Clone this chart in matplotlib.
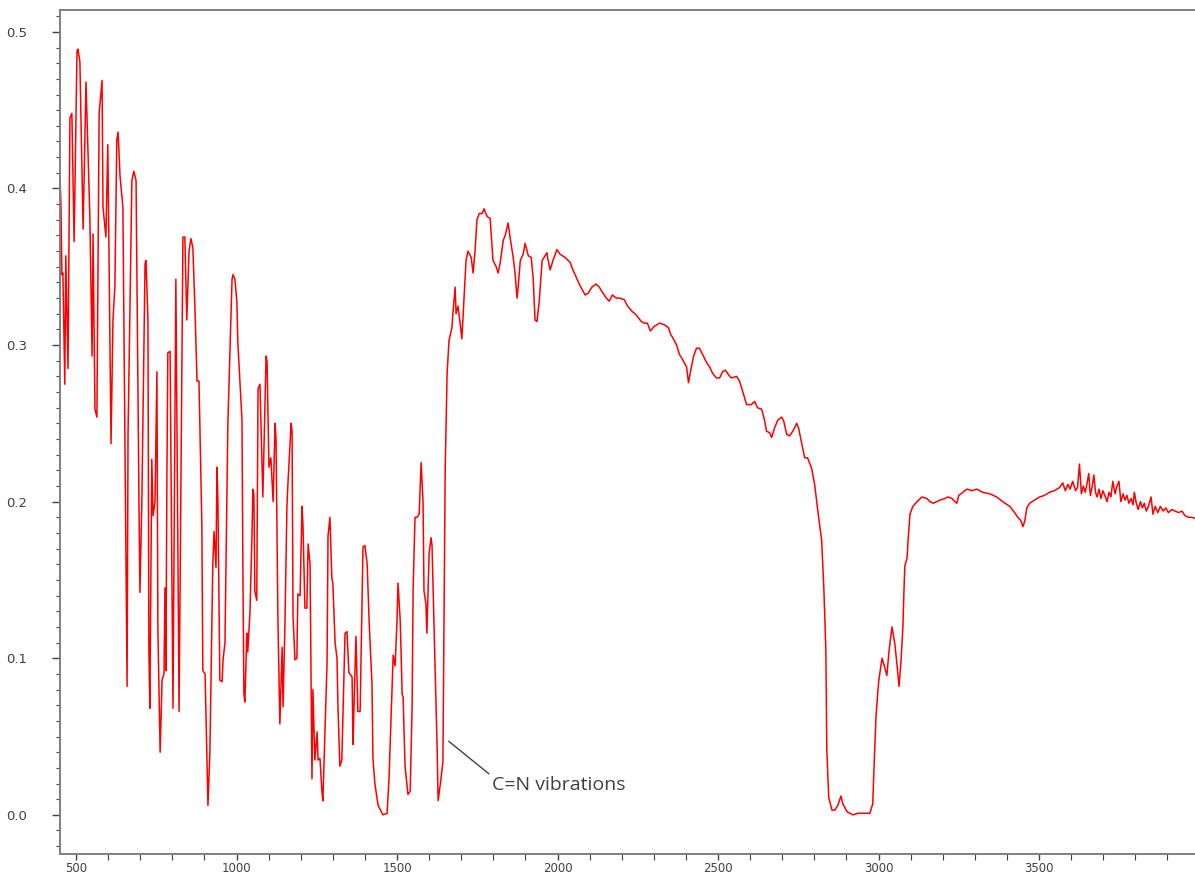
import matplotlib
matplotlib.use("Agg")
import matplotlib.pyplot as plt
from matplotlib.ticker import MultipleLocator, FormatStrFormatter

# IR spectrum, wavenumber (cm-1) vs absorbance
wavenumber = [
    450, 453, 456, 459, 465, 468, 475, 481, 487, 494, 503, 506, 512, 522, 531,
    543, 550, 553, 559, 565, 572, 581, 584, 593, 599, 609, 615, 621, 627, 631,
    637, 646, 652, 659, 662, 674, 680, 687, 693, 696, 699, 705, 715, 718, 724,
    727, 730, 736, 740, 746, 752, 755, 762, 768, 774, 777, 780, 783, 786, 793,
    802, 811, 821, 833, 839, 845, 852, 858, 864, 870, 877, 883, 892, 895, 902,
    908, 911, 917, 923, 926, 930, 936, 939, 942, 948, 955, 958, 964, 973, 986,
    989, 995, 1001, 1004, 1017, 1020, 1023, 1026, 1032, 1035, 1042, 1048, 1051,
    1054, 1057, 1063, 1067, 1073, 1082, 1092, 1095, 1101, 1107, 1114, 1120,
    1123, 1129, 1135, 1142, 1145, 1151, 1157, 1160, 1170, 1173, 1176, 1182,
    1188, 1191, 1198, 1204, 1207, 1213, 1219, 1223, 1229, 1235, 1238, 1244,
    1251, 1254, 1260, 1266, 1269, 1282, 1285, 1291, 1297, 1300, 1307, 1313,
    1316, 1322, 1328, 1338, 1344, 1350, 1360, 1363, 1366, 1372, 1378, 1385,
    1391, 1394, 1400, 1407, 1413, 1422, 1425, 1431, 1441, 1456, 1469, 1475,
    1488, 1494, 1500, 1503, 1510, 1516, 1519, 1525, 1534, 1541, 1547, 1550,
    1556, 1562, 1569, 1575, 1581, 1584, 1590, 1593, 1600, 1606, 1609, 1615,
    1625, 1628, 1637, 1643, 1650, 1656, 1662, 1671, 1674, 1681, 1684, 1690,
    1696, 1702, 1715, 1721, 1731, 1737, 1743, 1749, 1756, 1765, 1771, 1781,
    1790, 1799, 1809, 1815, 1821, 1831, 1837, 1846, 1852, 1862, 1868, 1874,
    1877, 1884, 1893, 1899, 1909, 1918, 1924, 1930, 1936, 1943, 1952, 1958,
    1967, 1970, 1977, 1986, 1998, 2008, 2023, 2039, 2048, 2061, 2070, 2086,
    2095, 2107, 2120, 2130, 2139, 2152, 2161, 2171, 2183, 2193, 2208, 2218,
    2230, 2246, 2261, 2271, 2280, 2289, 2302, 2318, 2333, 2346, 2352, 2358,
    2371, 2380, 2389, 2402, 2408, 2417, 2424, 2433, 2442, 2452, 2464, 2474,
    2483, 2495, 2505, 2514, 2523, 2533, 2542, 2558, 2567, 2576, 2589, 2604,
    2614, 2623, 2636, 2645, 2651, 2661, 2667, 2676, 2686, 2698, 2704, 2714,
    2723, 2733, 2745, 2751, 2761, 2770, 2779, 2792, 2801, 2811, 2823, 2830,
    2836, 2839, 2845, 2855, 2864, 2873, 2883, 2889, 2902, 2920, 2936, 2951,
    2964, 2973, 2982, 2986, 2992, 2998, 3001, 3011, 3017, 3026, 3033, 3042,
    3051, 3058, 3064, 3070, 3076, 3079, 3082, 3089, 3092, 3098, 3107, 3120,
    3135, 3151, 3160, 3170, 3182, 3191, 3207, 3216, 3229, 3238, 3244, 3250,
    3263, 3275, 3291, 3306, 3325, 3347, 3368, 3387, 3409, 3424, 3434, 3443,
    3450, 3456, 3462, 3471, 3486, 3502, 3517, 3533, 3548, 3564, 3574, 3582,
    3590, 3597, 3605, 3614, 3620, 3626, 3632, 3638, 3644, 3650, 3655, 3660,
    3666, 3671, 3676, 3681, 3687, 3693, 3699, 3705, 3712, 3718, 3724, 3730,
    3737, 3743, 3749, 3755, 3762, 3768, 3774, 3780, 3787, 3793, 3797, 3803,
    3809, 3816, 3822, 3828, 3834, 3841, 3849, 3855, 3862, 3870, 3878, 3887,
    3895, 3903, 3914, 3924, 3935, 3945, 3955, 3966, 3976, 3990,
]
absorbance = [
    0.407, 0.39, 0.345, 0.346, 0.275, 0.357, 0.285, 0.445, 0.448, 0.366, 0.488,
    0.489, 0.481, 0.374, 0.468, 0.382, 0.293, 0.371, 0.259, 0.254, 0.448, 0.469,
    0.388, 0.369, 0.428, 0.237, 0.316, 0.337, 0.431, 0.436, 0.408, 0.388, 0.25,
    0.082, 0.243, 0.405, 0.411, 0.405, 0.266, 0.2, 0.142, 0.2, 0.352, 0.354,
    0.316, 0.105, 0.068, 0.227, 0.191, 0.2, 0.283, 0.118, 0.04, 0.086, 0.09,
    0.145, 0.092, 0.214, 0.295, 0.296, 0.068, 0.342, 0.066, 0.369, 0.369, 0.316,
    0.36, 0.368, 0.362, 0.326, 0.277, 0.277, 0.185, 0.092, 0.09, 0.036, 0.006,
    0.04, 0.118, 0.16, 0.181, 0.158, 0.222, 0.2, 0.086, 0.085, 0.099, 0.11,
    0.25, 0.342, 0.345, 0.342, 0.328, 0.302, 0.252, 0.151, 0.077, 0.072, 0.116,
    0.104, 0.13, 0.178, 0.208, 0.205, 0.143, 0.137, 0.272, 0.275, 0.203, 0.293,
    0.29, 0.222, 0.228, 0.2, 0.25, 0.24, 0.124, 0.058, 0.107, 0.069, 0.124,
    0.197, 0.211, 0.25, 0.245, 0.127, 0.099, 0.1, 0.141, 0.14, 0.197, 0.185,
    0.132, 0.132, 0.173, 0.16, 0.023, 0.08, 0.035, 0.053, 0.035, 0.036, 0.015,
    0.009, 0.097, 0.178, 0.19, 0.151, 0.148, 0.11, 0.1, 0.069, 0.031, 0.035,
    0.116, 0.117, 0.091, 0.088, 0.045, 0.07, 0.114, 0.066, 0.066, 0.137, 0.171,
    0.172, 0.16, 0.124, 0.083, 0.036, 0.02, 0.006, 0.0, 0.001, 0.023, 0.102,
    0.095, 0.124, 0.148, 0.124, 0.077, 0.075, 0.031, 0.013, 0.015, 0.069, 0.143,
    0.19, 0.19, 0.192, 0.225, 0.2, 0.143, 0.135, 0.116, 0.167, 0.177, 0.172,
    0.124, 0.042, 0.009, 0.023, 0.034, 0.22, 0.282, 0.303, 0.311, 0.32, 0.337,
    0.32, 0.325, 0.315, 0.304, 0.354, 0.36, 0.356, 0.346, 0.36, 0.38, 0.384,
    0.384, 0.387, 0.382, 0.381, 0.354, 0.35, 0.346, 0.352, 0.367, 0.37, 0.378,
    0.369, 0.356, 0.345, 0.33, 0.336, 0.354, 0.358, 0.365, 0.357, 0.356, 0.343,
    0.316, 0.315, 0.328, 0.354, 0.356, 0.359, 0.355, 0.348, 0.354, 0.361, 0.358,
    0.356, 0.353, 0.348, 0.342, 0.338, 0.332, 0.333, 0.337, 0.339, 0.337, 0.334,
    0.33, 0.328, 0.332, 0.33, 0.33, 0.329, 0.325, 0.322, 0.319, 0.315, 0.314,
    0.314, 0.309, 0.312, 0.314, 0.313, 0.311, 0.307, 0.305, 0.3, 0.294, 0.291,
    0.286, 0.276, 0.286, 0.293, 0.298, 0.298, 0.294, 0.289, 0.286, 0.282, 0.279,
    0.279, 0.283, 0.284, 0.281, 0.279, 0.28, 0.277, 0.271, 0.262, 0.262, 0.264,
    0.26, 0.259, 0.252, 0.245, 0.244, 0.241, 0.247, 0.252, 0.254, 0.252, 0.243,
    0.242, 0.245, 0.25, 0.247, 0.237, 0.228, 0.228, 0.221, 0.211, 0.194, 0.175,
    0.143, 0.105, 0.041, 0.011, 0.003, 0.003, 0.006, 0.012, 0.007, 0.002, 0.0,
    0.001, 0.001, 0.001, 0.001, 0.007, 0.03, 0.062, 0.079, 0.086, 0.1, 0.096,
    0.089, 0.105, 0.12, 0.109, 0.095, 0.082, 0.098, 0.12, 0.141, 0.159, 0.164,
    0.175, 0.192, 0.197, 0.2, 0.203, 0.202, 0.2, 0.199, 0.2, 0.201, 0.202,
    0.203, 0.202, 0.2, 0.199, 0.204, 0.206, 0.208, 0.207, 0.208, 0.206, 0.205,
    0.203, 0.2, 0.197, 0.193, 0.19, 0.188, 0.184, 0.188, 0.196, 0.199, 0.201,
    0.203, 0.204, 0.206, 0.207, 0.209, 0.212, 0.207, 0.211, 0.208, 0.213, 0.207,
    0.209, 0.224, 0.205, 0.21, 0.206, 0.212, 0.218, 0.204, 0.21, 0.217, 0.206,
    0.203, 0.208, 0.202, 0.207, 0.204, 0.2, 0.206, 0.203, 0.213, 0.205, 0.21,
    0.213, 0.2, 0.205, 0.201, 0.204, 0.199, 0.202, 0.198, 0.206, 0.199, 0.195,
    0.2, 0.196, 0.199, 0.194, 0.197, 0.203, 0.192, 0.197, 0.193, 0.197, 0.194,
    0.196, 0.193, 0.195, 0.194, 0.193, 0.194, 0.191, 0.19, 0.19, 0.189,
]

label_text = "C=N vibrations"
label_point = (1661, 0.047)
label_pos = (1795, 0.019)

grey = "#7f7f7f"

fig = plt.figure(figsize=(11.95, 8.74), dpi=100)
ax = fig.add_axes([0.0502, 0.0229, 0.9498, 0.9657])

ax.plot(wavenumber, absorbance, color="#ff0000", lw=1.1)

ax.set_xlim(450, 3986)
ax.set_ylim(-0.025, 0.514)

ax.xaxis.set_major_locator(MultipleLocator(500))
ax.xaxis.set_minor_locator(MultipleLocator(100))
ax.yaxis.set_major_locator(MultipleLocator(0.1))
ax.yaxis.set_minor_locator(MultipleLocator(0.01))
ax.yaxis.set_major_formatter(FormatStrFormatter("%.1f"))

# no right frame line in the original, the plot runs off the edge
ax.spines["right"].set_visible(False)
for side in ["left", "bottom", "top"]:
    ax.spines[side].set_color(grey)
    ax.spines[side].set_linewidth(1.4)

ax.tick_params(axis="both", which="major", colors="#404040",
               direction="out", width=1.0)
ax.tick_params(axis="y", which="major", length=6, pad=18, labelsize=9.5)
ax.tick_params(axis="x", which="major", length=4, pad=1.5, labelsize=8.5)
ax.tick_params(axis="y", which="minor", length=3, width=0.8, color="#404040")
ax.tick_params(axis="x", which="minor", length=4, width=0.8, color="#404040")

ax.annotate(label_text, xy=label_point, xytext=label_pos,
            fontsize=14, family="Open Sans", color="#404040", va="center",
            ha="left",
            arrowprops=dict(arrowstyle="-", color="#404040", lw=1.0,
                            shrinkA=0, shrinkB=0, relpos=(0, 1)))

fig.savefig("out.png", dpi=100)
